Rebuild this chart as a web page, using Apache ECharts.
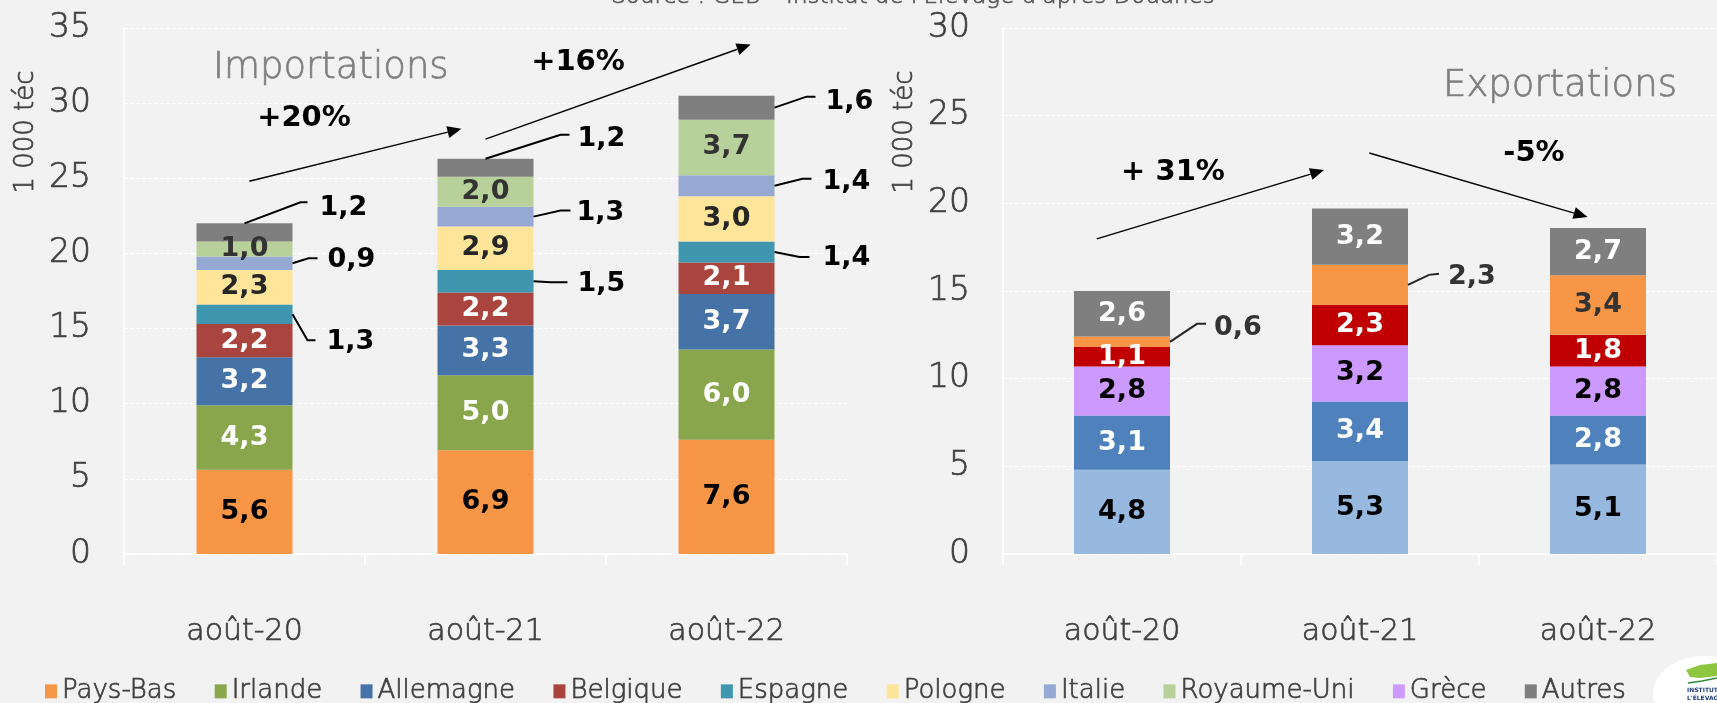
<!DOCTYPE html>
<html>
<head>
<meta charset="utf-8">
<script src="https://cdn.jsdelivr.net/npm/echarts@6/dist/echarts.min.js"></script>
<style>
  html, body { margin: 0; padding: 0; background: #f2f2f2; }
  #chart { width: 1717px; height: 703px; }
</style>
</head>
<body>
<div id="chart"></div>
<script>
// ---- data (1 000 téc) ----
const periods = ['août-20', 'août-21', 'août-22'];

const importPaysBas    = [5.6, 6.9, 7.6];
const importIrlande    = [4.3, 5.0, 6.0];
const importAllemagne  = [3.2, 3.3, 3.7];
const importBelgique   = [2.2, 2.2, 2.1];
const importEspagne    = [1.3, 1.5, 1.4];
const importPologne    = [2.3, 2.9, 3.0];
const importItalie     = [0.9, 1.3, 1.4];
const importRoyaumeUni = [1.0, 2.0, 3.7];
const importAutres     = [1.2, 1.2, 1.6];

const exportItalie    = [4.8, 5.3, 5.1];
const exportAllemagne = [3.1, 3.4, 2.8];
const exportGrece     = [2.8, 3.2, 2.8];
const exportBelgique  = [1.1, 2.3, 1.8];
const exportPaysBas   = [0.6, 2.3, 3.4];
const exportAutres    = [2.6, 3.2, 2.7];

const legendNames = ['Pays-Bas', 'Irlande', 'Allemagne', 'Belgique', 'Espagne',
                     'Pologne', 'Italie', 'Royaume-Uni', 'Grèce', 'Autres'];
const importMax = 35;
const exportMax = 30;
const tickStep = 5;
const growthTexts = ['+20%', '+16%', '+ 31%', '-5%'];
const sourceText = "Source : GEB – Institut de l'Elevage d'après Douanes";

// ---- styling ----
const FONT = 'DejaVu Sans';
const TEXT = '#404040';
const THIN = 300;       // light face, thickened slightly with a same-colour outline
const EDGE = 0.7;
const BAR_W = 96;

const importStack = [
  { name: 'Pays-Bas',    values: importPaysBas,    color: '#f79646', label: '#000000' },
  { name: 'Irlande',     values: importIrlande,    color: '#8aa64c', label: '#ffffff' },
  { name: 'Allemagne',   values: importAllemagne,  color: '#4572a7', label: '#ffffff' },
  { name: 'Belgique',    values: importBelgique,   color: '#a9443f', label: '#ffffff' },
  { name: 'Espagne',     values: importEspagne,    color: '#3e97ae', label: '#000000' },
  { name: 'Pologne',     values: importPologne,    color: '#fee599', label: '#262626' },
  { name: 'Italie',      values: importItalie,     color: '#95a9d3', label: '#000000' },
  { name: 'Royaume-Uni', values: importRoyaumeUni, color: '#b8d19b', label: '#333333' },
  { name: 'Autres',      values: importAutres,     color: '#7f7f7f', label: '#000000' }
];
const exportStack = [
  { name: 'Italie',    values: exportItalie,    color: '#97b9e0', label: '#000000' },
  { name: 'Allemagne', values: exportAllemagne, color: '#4f81bd', label: '#ffffff' },
  { name: 'Grèce',     values: exportGrece,     color: '#cc99ff', label: '#000000' },
  { name: 'Belgique',  values: exportBelgique,  color: '#c00000', label: '#ffffff' },
  { name: 'Pays-Bas',  values: exportPaysBas,   color: '#f79646', label: '#333333' },
  { name: 'Autres',    values: exportAutres,    color: '#7f7f7f', label: '#ffffff' }
];

// labels drawn beside the bar with a leader line (offsets in px from the anchor point)
const callouts = {
  '0|Autres|0':   { anchor: 'top',   elbow: [56, -21], end: [63, -21], gap: 12, dy: 6 },
  '0|Italie|0':   { anchor: 'right', elbow: [16, -5],  end: [25, -5],  gap: 10, dy: 2 },
  '0|Espagne|0':  { anchor: 'right', elbow: [15, 26],  end: [23, 26],  gap: 11, dy: 2 },
  '0|Autres|1':   { anchor: 'top',   elbow: [75, -24], end: [84, -24], gap: 8,  dy: 4 },
  '0|Italie|1':   { anchor: 'right', elbow: [27, -6],  end: [37, -6],  gap: 6,  dy: 2 },
  '0|Espagne|1':  { anchor: 'right', elbow: [17, 1],   end: [34, 1],   gap: 10, dy: 2 },
  '0|Autres|2':   { anchor: 'right', elbow: [32, -11], end: [41, -11], gap: 10, dy: 5 },
  '0|Italie|2':   { anchor: 'right', elbow: [28, -7],  end: [37, -7],  gap: 11, dy: 3 },
  '0|Espagne|2':  { anchor: 'right', elbow: [25, 5],   end: [35, 5],   gap: 13, dy: 1 },
  '1|Pays-Bas|0': { anchor: 'right', elbow: [27, -18], end: [36, -18], gap: 8,  dy: 4 },
  '1|Pays-Bas|1': { anchor: 'right', elbow: [21, -10], end: [31, -11], gap: 9,  dy: 3 }
};

const fmt = v => v.toFixed(1).replace('.', ',');

function buildSeries(stack, k) {
  return stack.map(s => ({
    name: s.name,
    type: 'bar',
    stack: 'stack' + k,
    xAxisIndex: k,
    yAxisIndex: k,
    barWidth: BAR_W,
    itemStyle: { color: s.color },
    label: {
      show: true,
      position: 'inside',
      formatter: p => fmt(p.value),
      fontFamily: FONT,
      fontWeight: 'bold',
      fontSize: 27,
      color: s.label
    },
    emphasis: { disabled: true },
    data: s.values.map((v, i) => {
      const c = callouts[k + '|' + s.name + '|' + i];
      if (!c) return v;
      return {
        value: v,
        label: {
          position: c.anchor === 'top' ? ['50%', '0%'] : ['100%', '50%'],
          align: 'left',
          verticalAlign: 'middle',
          offset: [c.end[0] + c.gap, c.end[1] + c.dy],
          color: k === 0 ? '#000000' : '#333333'
        }
      };
    })
  }));
}

const lightText = (size, color) => ({
  fontSize: size, color: color, fontFamily: FONT, fontWeight: THIN,
  textBorderColor: color, textBorderWidth: EDGE
});

function xAxis(k) {
  return {
    gridIndex: k, type: 'category', data: periods, boundaryGap: true,
    axisLine: { show: true, lineStyle: { color: '#ffffff', width: 1.5 } },
    axisTick: { show: true, length: 11, lineStyle: { color: '#ffffff', width: 1.5 } },
    axisLabel: Object.assign({ margin: 63 }, lightText(30, TEXT))
  };
}
function yAxis(k, max) {
  return {
    gridIndex: k, type: 'value', min: 0, max: max, interval: tickStep,
    axisLine: { show: true, lineStyle: { color: '#ffffff', width: 1.5 } },
    axisTick: { show: false },
    splitLine: { show: true, lineStyle: { color: '#ffffff', width: 1.2, type: [4, 2] } },
    axisLabel: Object.assign({ margin: 33 }, lightText(33, TEXT))
  };
}

const chart = echarts.init(document.getElementById('chart'));
chart.setOption({
  backgroundColor: '#f2f2f2',
  animation: false,
  textStyle: { fontFamily: FONT },
  grid: [
    { left: 124, top: 28, width: 723, height: 526 },
    { left: 1003, top: 28, width: 723, height: 526 }
  ],
  xAxis: [xAxis(0), xAxis(1)],
  yAxis: [yAxis(0, importMax), yAxis(1, exportMax)],
  legend: {
    data: legendNames,
    left: 40, top: 673,
    icon: 'rect', itemWidth: 12, itemHeight: 14, itemGap: 38,
    textStyle: lightText(26, TEXT)
  },
  series: buildSeries(importStack, 0).concat(buildSeries(exportStack, 1))
});

// ---- overlay: leader lines, growth arrows, titles ----
function px(k, x, y) {
  return chart.convertToPixel({ xAxisIndex: k, yAxisIndex: k }, [x, y]);
}
// fractional category positions: interpolate between the first two band centres
function pxFrac(k, xf, y) {
  const a = px(k, 0, y), b = px(k, 1, y);
  return [a[0] + xf * (b[0] - a[0]), a[1]];
}

const graphics = [];

[[importStack, 0], [exportStack, 1]].forEach(([stack, k]) => {
  periods.forEach((p, i) => {
    let base = 0;
    stack.forEach(s => {
      const v = s.values[i];
      const c = callouts[k + '|' + s.name + '|' + i];
      if (c) {
        let a;
        if (c.anchor === 'top') {
          a = px(k, i, base + v);
        } else {
          a = px(k, i, base + v / 2);
          a[0] += BAR_W / 2;
        }
        graphics.push({
          type: 'polyline', silent: true, z: 10,
          shape: { points: [a, [a[0] + c.elbow[0], a[1] + c.elbow[1]], [a[0] + c.end[0], a[1] + c.end[1]]] },
          style: { stroke: k === 0 ? '#000000' : '#262626', lineWidth: 2, fill: null }
        });
      }
      base += v;
    });
  });
});

// growth arrows, in data space: [category position, value]
const growthArrows = [
  { k: 0, from: [0.02, 24.8], to: [0.90, 28.3] },
  { k: 0, from: [1.00, 27.6], to: [2.10, 33.9] },
  { k: 1, from: [-0.106, 17.97], to: [0.849, 21.9] },
  { k: 1, from: [1.039, 22.87], to: [1.956, 19.22] }
];
growthArrows.forEach(g => {
  const p0 = pxFrac(g.k, g.from[0], g.from[1]);
  const p1 = pxFrac(g.k, g.to[0], g.to[1]);
  const dx = p1[0] - p0[0], dy = p1[1] - p0[1];
  const len = Math.sqrt(dx * dx + dy * dy);
  const ux = dx / len, uy = dy / len;
  const hl = 14, hw = 6;
  const bx = p1[0] - ux * hl, by = p1[1] - uy * hl;
  graphics.push({
    type: 'line', silent: true, z: 10,
    shape: { x1: p0[0], y1: p0[1], x2: bx, y2: by },
    style: { stroke: '#000000', lineWidth: 1.4 }
  });
  graphics.push({
    type: 'polygon', silent: true, z: 10,
    shape: { points: [p1, [bx - uy * hw, by + ux * hw], [bx + uy * hw, by - ux * hw]] },
    style: { fill: '#000000' }
  });
});

const growthPos = [[304, 118], [578, 62], [1173, 172], [1534, 153]];
growthTexts.forEach((t, i) => {
  graphics.push({
    type: 'text', silent: true, z: 11,
    style: { text: t, x: growthPos[i][0], y: growthPos[i][1], align: 'center', verticalAlign: 'middle',
             fontFamily: FONT, fontWeight: 'bold', fontSize: 29, fill: '#000000' }
  });
});

const lightGraphicText = (text, x, y, size, color, align, vAlign) => ({
  text: text, x: x, y: y, align: align, verticalAlign: vAlign,
  fontFamily: FONT, fontWeight: THIN, fontSize: size, fill: color, stroke: color, lineWidth: EDGE
});

// panel titles
graphics.push({ type: 'text', silent: true,
  style: lightGraphicText('Importations', 213, 68, 37, '#7f7f7f', 'left', 'middle') });
graphics.push({ type: 'text', silent: true,
  style: lightGraphicText('Exportations', 1443, 86, 37, '#7f7f7f', 'left', 'middle') });

// vertical unit labels
[[26, 132], [905, 132]].forEach(pos => {
  graphics.push({
    type: 'text', silent: true, x: pos[0], y: pos[1], rotation: Math.PI / 2,
    style: lightGraphicText('1 000 téc', 0, 0, 26, TEXT, 'center', 'middle')
  });
});

// source line
graphics.push({ type: 'text', silent: true,
  style: lightGraphicText(sourceText, 913, 9, 23, '#595959', 'center', 'bottom') });

// logo badge, bottom right
graphics.push({
  type: 'group', silent: true,
  children: [
    { type: 'ellipse', shape: { cx: 1705, cy: 694, rx: 52, ry: 38 }, style: { fill: '#ffffff' } },
    { type: 'polygon', shape: { points: [[1686, 670], [1700, 665], [1717, 663], [1717, 676], [1700, 678], [1690, 677]] },
      style: { fill: '#8dc63f' } },
    { type: 'polyline', shape: { points: [[1688, 683], [1702, 681], [1717, 678]] },
      style: { stroke: '#2e8b3a', lineWidth: 1.5, fill: null } },
    { type: 'text', style: { text: 'INSTITUT DE', x: 1687, y: 690, fontSize: 6, fontWeight: 'bold',
      fontFamily: FONT, fill: '#1f3c7a', verticalAlign: 'middle' } },
    { type: 'text', style: { text: "L'ÉLEVAGE", x: 1687, y: 698, fontSize: 6, fontWeight: 'bold',
      fontFamily: FONT, fill: '#1f3c7a', verticalAlign: 'middle' } }
  ]
});

chart.setOption({ graphic: graphics });
</script>
</body>
</html>
